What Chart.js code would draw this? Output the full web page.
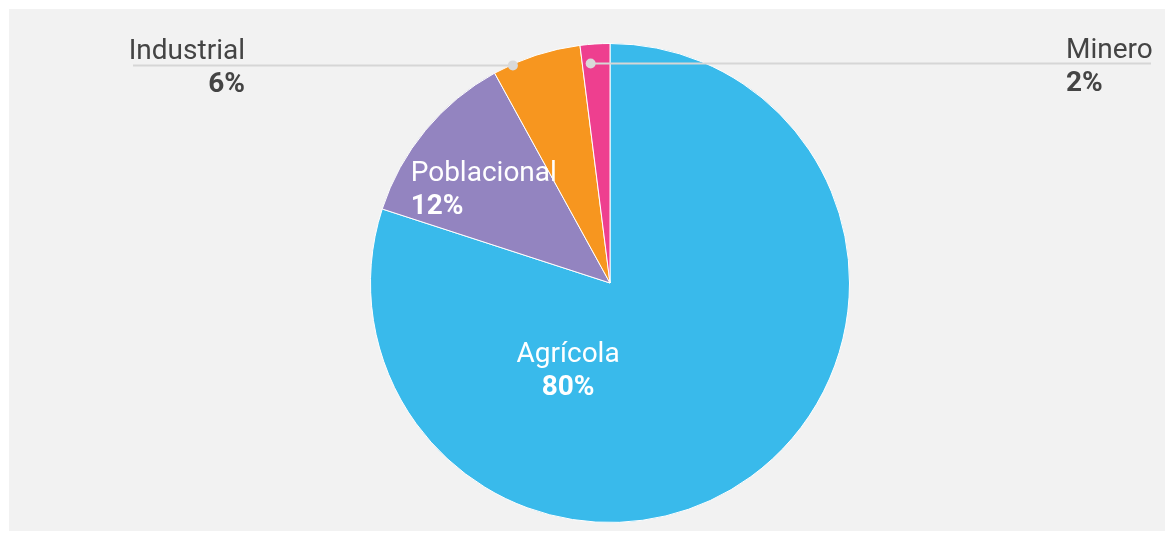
<!DOCTYPE html>
<html>
<head>
<meta charset="utf-8">
<script src="https://cdn.jsdelivr.net/npm/chart.js@4"></script>
<style>
    html, body { margin: 0; padding: 0; background: #ffffff; }
    #wrap { width: 1173px; height: 533px; }
</style>
</head>
<body>
<div id="wrap"><canvas id="pieChart" width="1173" height="533"></canvas></div>
<script>
// Datos del gráfico
const categories = ['Agrícola', 'Poblacional', 'Industrial', 'Minero'];
const values = [80, 12, 6, 2];
const percentLabels = ['80%', '12%', '6%', '2%'];
const sliceColors = ['#39baeb', '#9384c0', '#f7961f', '#ee3f8f'];

// como se pone cada etiqueta (dentro o con linea guia)
const labelStyle = [
    { mode: 'inside', angleFrac: 0.715, radiusFrac: 0.4, align: 'center' },
    { mode: 'inside', angleFrac: 0.44, radiusFrac: 0.66, align: 'left' },
    { mode: 'leader', angleFrac: 0.22, radiusFrac: 0.995, side: 'left', textX: 245, lineEnd: 133 },
    { mode: 'leader', angleFrac: 0.3, radiusFrac: 0.92, side: 'right', textX: 1066, lineEnd: 1151 }
];

const FONT = 'Roboto, "Noto Sans", sans-serif';

const backgroundPlugin = {
    id: 'grayBackground',
    beforeDraw(chart) {
        const ctx = chart.ctx;
        ctx.save();
        ctx.fillStyle = '#f2f2f2';
        ctx.fillRect(9, 9, 1156, 522);
        ctx.restore();
    }
};

const sliceLabels = {
    id: 'sliceLabels',
    afterDatasetsDraw(chart) {
        const ctx = chart.ctx;
        const arcs = chart.getDatasetMeta(0).data;
        ctx.save();
        arcs.forEach(function (arc, i) {
            const p = arc.getProps(['x', 'y', 'startAngle', 'endAngle', 'outerRadius'], true);
            const st = labelStyle[i];
            const ang = p.startAngle + st.angleFrac * (p.endAngle - p.startAngle);
            const r = st.radiusFrac * p.outerRadius;
            const ax = p.x + Math.cos(ang) * r;
            const ay = p.y + Math.sin(ang) * r;

            if (st.mode === 'inside') {
                ctx.fillStyle = '#ffffff';
                ctx.textAlign = st.align;
                ctx.textBaseline = 'alphabetic';
                ctx.font = '28px ' + FONT;
                let tx = ax;
                if (st.align === 'left') {
                    tx = ax - ctx.measureText(categories[i]).width / 2;
                }
                ctx.fillText(categories[i], tx, ay - 7);
                ctx.font = 'bold 28px ' + FONT;
                ctx.fillText(percentLabels[i], tx, ay + 26);
            } else {
                // linea guia
                ctx.strokeStyle = '#d6d6d6';
                ctx.lineWidth = 2;
                ctx.beginPath();
                ctx.moveTo(ax, ay);
                ctx.lineTo(st.lineEnd, ay);
                ctx.stroke();
                ctx.fillStyle = '#d9d9d9';
                ctx.beginPath();
                ctx.arc(ax, ay, 5, 0, Math.PI * 2);
                ctx.fill();

                ctx.fillStyle = '#444444';
                ctx.textAlign = st.side === 'left' ? 'right' : 'left';
                ctx.textBaseline = 'alphabetic';
                ctx.font = '28px ' + FONT;
                ctx.fillText(categories[i], st.textX, ay - 6);
                ctx.font = 'bold 28px ' + FONT;
                ctx.fillText(percentLabels[i], st.textX, ay + 27);
            }
        });
        ctx.restore();
    }
};

const pieCtx = document.getElementById('pieChart').getContext('2d');
const pieChart = new Chart(pieCtx, {
    type: 'pie',
    data: {
        labels: categories,
        datasets: [{
            data: values,
            backgroundColor: sliceColors,
            borderColor: '#ffffff',
            borderWidth: 1,
            hoverOffset: 0
        }]
    },
    options: {
        responsive: false,
        animation: false,
        layout: {
            padding: { top: 43, bottom: 10, left: 100, right: 53 }
        },
        plugins: {
            legend: { display: false },
            tooltip: { enabled: false }
        }
    },
    plugins: [backgroundPlugin, sliceLabels]
});
</script>
</body>
</html>
